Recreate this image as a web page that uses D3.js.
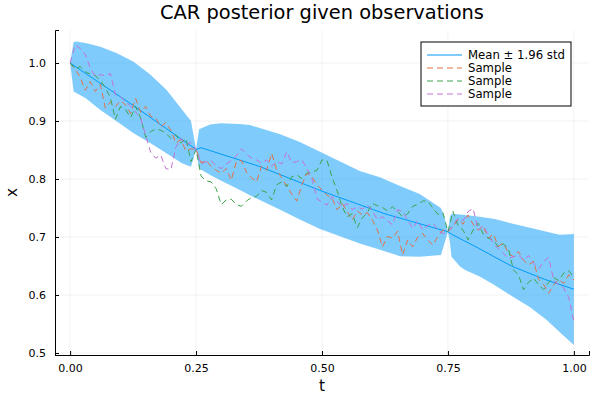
<!DOCTYPE html>
<html lang="en">
<head>
  <meta charset="UTF-8">
  <script src="https://cdn.jsdelivr.net/npm/d3@7"></script>
  <style>
    body { margin: 0; background: #fff; }
    text { font-family: "DejaVu Sans", sans-serif; fill: #000; }
  </style>
</head>
<body>
<div id="my_dataviz"></div>

<script>
// data
var tBand = [0, 0.007, 0.013, 0.026, 0.033, 0.06, 0.093, 0.126, 0.159, 0.192, 0.222, 0.24, 0.25,
  0.256, 0.278, 0.298, 0.337, 0.357, 0.417, 0.456, 0.496, 0.575, 0.615, 0.655, 0.694, 0.736, 0.742, 0.75,
  0.754, 0.757, 0.774, 0.784, 0.813, 0.843, 0.879, 0.913, 0.946, 0.972, 1.0];
var bandUpper = [1.0, 1.036, 1.037, 1.035, 1.034, 1.028, 1.017, 1.002, 0.980, 0.953, 0.920, 0.900, 0.851,
  0.886, 0.894, 0.896, 0.895, 0.893, 0.877, 0.864, 0.847, 0.814, 0.803, 0.788, 0.774, 0.750, 0.738, 0.709,
  0.735, 0.740, 0.739, 0.738, 0.735, 0.731, 0.723, 0.716, 0.709, 0.704, 0.705];
var bandLower = [1.0, 0.951, 0.948, 0.942, 0.938, 0.919, 0.899, 0.879, 0.862, 0.844, 0.827, 0.821, 0.851,
  0.818, 0.807, 0.798, 0.781, 0.772, 0.747, 0.730, 0.714, 0.689, 0.678, 0.667, 0.666, 0.669, 0.686, 0.709,
  0.690, 0.666, 0.649, 0.643, 0.632, 0.617, 0.597, 0.579, 0.557, 0.536, 0.514];

var tMean = [0, 0.125, 0.25, 0.26, 0.375, 0.5, 0.625, 0.75, 0.757, 0.81, 0.876, 0.942, 1.0];
var meanVals = [1.0, 0.927, 0.851, 0.854, 0.822, 0.779, 0.740, 0.709, 0.705, 0.681, 0.650, 0.627, 0.610];

var tSample = [0, 0.01, 0.02, 0.03, 0.04, 0.05, 0.06, 0.07, 0.08, 0.09, 0.1, 0.11, 0.12, 0.13, 0.14, 0.15,
  0.16, 0.17, 0.18, 0.19, 0.2, 0.21, 0.22, 0.23, 0.24, 0.25, 0.26, 0.27, 0.28, 0.29, 0.3, 0.31, 0.32, 0.33,
  0.34, 0.35, 0.36, 0.37, 0.38, 0.39, 0.4, 0.41, 0.42, 0.43, 0.44, 0.45, 0.46, 0.47, 0.48, 0.49, 0.5, 0.51,
  0.52, 0.53, 0.54, 0.55, 0.56, 0.57, 0.58, 0.59, 0.6, 0.61, 0.62, 0.63, 0.64, 0.65, 0.66, 0.67, 0.68, 0.69,
  0.7, 0.71, 0.72, 0.73, 0.74, 0.75, 0.76, 0.77, 0.78, 0.79, 0.8, 0.81, 0.82, 0.83, 0.84, 0.85, 0.86, 0.87,
  0.88, 0.89, 0.9, 0.91, 0.92, 0.93, 0.94, 0.95, 0.96, 0.97, 0.98, 0.99, 1.0];

var sampleOrange = [1.0, 0.99, 0.975, 0.953, 0.968, 0.951, 0.963, 0.922, 0.933, 0.925, 0.935, 0.928, 0.913,
  0.939, 0.915, 0.925, 0.908, 0.905, 0.89, 0.897, 0.884, 0.862, 0.868, 0.848, 0.852, 0.851,
  0.828, 0.832, 0.822, 0.815, 0.81, 0.818, 0.798, 0.83, 0.832, 0.812, 0.802, 0.795, 0.822, 0.815, 0.844,
  0.816, 0.802, 0.788, 0.774, 0.762, 0.79, 0.81, 0.804, 0.79, 0.781, 0.772, 0.767, 0.747, 0.758, 0.744,
  0.729, 0.745, 0.738, 0.742, 0.729, 0.712, 0.683, 0.701, 0.698, 0.71, 0.669, 0.695, 0.683, 0.7, 0.706,
  0.695, 0.686, 0.701, 0.712, 0.709,
  0.718, 0.73, 0.722, 0.738, 0.722, 0.712, 0.719, 0.698, 0.705, 0.684, 0.69, 0.672, 0.666, 0.675, 0.66,
  0.652, 0.658, 0.627, 0.618, 0.603, 0.618, 0.626, 0.62, 0.635, 0.626];
var sampleGreen = [1.0, 0.99, 0.994, 0.985, 0.981, 0.978, 0.97, 0.957, 0.94, 0.903, 0.925, 0.92, 0.906,
  0.925, 0.905, 0.872, 0.882, 0.886, 0.884, 0.879, 0.87, 0.876, 0.862, 0.87, 0.83, 0.851,
  0.805, 0.797, 0.795, 0.783, 0.756, 0.764, 0.765, 0.756, 0.753, 0.762, 0.768, 0.77, 0.78, 0.777, 0.764,
  0.79, 0.795, 0.787, 0.804, 0.807, 0.801, 0.81, 0.812, 0.815, 0.833, 0.832, 0.803, 0.78, 0.752, 0.735,
  0.74, 0.716, 0.733, 0.742, 0.758, 0.754, 0.751, 0.745, 0.752, 0.744, 0.735, 0.74, 0.753, 0.756, 0.762,
  0.762, 0.75, 0.739, 0.742, 0.709,
  0.744, 0.72, 0.712, 0.695, 0.712, 0.724, 0.705, 0.698, 0.695, 0.683, 0.688, 0.68, 0.643, 0.635, 0.609,
  0.622, 0.629, 0.618, 0.609, 0.622, 0.63, 0.625, 0.638, 0.642, 0.63];
var samplePurple = [1.0, 1.031, 1.025, 1.015, 0.991, 0.977, 0.98, 0.978, 0.982, 0.945, 0.942, 0.933, 0.926,
  0.915, 0.905, 0.875, 0.846, 0.836, 0.841, 0.818, 0.816, 0.855, 0.87, 0.859, 0.863, 0.851,
  0.826, 0.83, 0.832, 0.822, 0.818, 0.826, 0.832, 0.84, 0.852, 0.843, 0.836, 0.833, 0.827, 0.833, 0.822,
  0.83, 0.826, 0.847, 0.828, 0.83, 0.833, 0.818, 0.8, 0.766, 0.76, 0.755, 0.77, 0.762, 0.752, 0.758,
  0.747, 0.752, 0.748, 0.755, 0.745, 0.73, 0.735, 0.728, 0.721, 0.747, 0.744, 0.729, 0.715, 0.728, 0.712,
  0.72, 0.724, 0.712, 0.706, 0.709,
  0.72, 0.732, 0.728, 0.744, 0.749, 0.712, 0.72, 0.703, 0.69, 0.68, 0.672, 0.663, 0.666, 0.669, 0.66,
  0.668, 0.655, 0.645, 0.658, 0.665, 0.625, 0.618, 0.612, 0.595, 0.554];

var xTicks = [0, 0.25, 0.5, 0.75, 1.0];
var yTicks = [0.5, 0.6, 0.7, 0.8, 0.9, 1.0];
var legendLabels = ["Mean \u00b1 1.96 std", "Sample", "Sample", "Sample"];

// sizes
var W = 600, H = 400;
var plotLeft = 55, plotRight = 589, plotTop = 30, plotBottom = 355;
var blue = "#009af9";
var sampleColors = ["#e26f46", "#3da44d", "#c271d2"];

var svg = d3.select("#my_dataviz")
  .append("svg")
  .attr("width", W)
  .attr("height", H);

var x = d3.scaleLinear().domain([-0.03, 1.03]).range([plotLeft, plotRight]);
var y = d3.scaleLinear().domain([0.4966, 1.0569]).range([plotBottom, plotTop]);

// grid
svg.append("g").selectAll("line")
  .data(xTicks).enter().append("line")
  .attr("x1", function(d) { return x(d); })
  .attr("x2", function(d) { return x(d); })
  .attr("y1", plotTop).attr("y2", plotBottom)
  .attr("stroke", "#000").attr("stroke-opacity", 0.1).attr("stroke-width", 0.5);
svg.append("g").selectAll("line")
  .data(yTicks).enter().append("line")
  .attr("x1", plotLeft).attr("x2", plotRight)
  .attr("y1", function(d) { return y(d); })
  .attr("y2", function(d) { return y(d); })
  .attr("stroke", "#000").attr("stroke-opacity", 0.1).attr("stroke-width", 0.5);

// ribbon
var band = tBand.map(function(t, i) { return { t: t, lo: bandLower[i], hi: bandUpper[i] }; });
svg.append("path")
  .datum(band)
  .attr("fill", blue)
  .attr("fill-opacity", 0.5)
  .attr("d", d3.area()
    .x(function(d) { return x(d.t); })
    .y0(function(d) { return y(d.lo); })
    .y1(function(d) { return y(d.hi); }));

// mean line
var line = d3.line()
  .x(function(d) { return x(d[0]); })
  .y(function(d) { return y(d[1]); });
svg.append("path")
  .datum(tMean.map(function(t, i) { return [t, meanVals[i]]; }))
  .attr("fill", "none")
  .attr("stroke", blue)
  .attr("stroke-width", 1)
  .attr("d", line);

// samples
[sampleOrange, sampleGreen, samplePurple].forEach(function(s, k) {
  svg.append("path")
    .datum(tSample.map(function(t, i) { return [t, s[i]]; }))
    .attr("fill", "none")
    .attr("stroke", sampleColors[k])
    .attr("stroke-width", 1)
    .attr("stroke-dasharray", "6,4")
    .attr("d", line);
});

// axes
var xAxis = svg.append("g")
  .attr("transform", "translate(0," + plotBottom + ")")
  .call(d3.axisBottom(x).tickValues(xTicks).tickFormat(d3.format(".2f")).tickSize(-4).tickPadding(9));
var yAxis = svg.append("g")
  .attr("transform", "translate(" + plotLeft + ",0)")
  .call(d3.axisLeft(y).tickValues(yTicks).tickFormat(d3.format(".1f")).tickSize(-4).tickPadding(9));
[xAxis, yAxis].forEach(function(a) {
  a.select(".domain").attr("stroke", "#000").attr("stroke-width", 1);
  a.selectAll(".tick line").attr("stroke", "#000");
  a.selectAll(".tick text").style("font-size", "11px").attr("fill", "#000");
});

// title and labels
svg.append("text")
  .attr("x", (plotLeft + plotRight) / 2).attr("y", 19)
  .attr("text-anchor", "middle")
  .style("font-size", "19.4px")
  .text("CAR posterior given observations");
svg.append("text")
  .attr("x", (plotLeft + plotRight) / 2).attr("y", 391)
  .attr("text-anchor", "middle")
  .style("font-size", "15.3px")
  .text("t");
svg.append("text")
  .attr("transform", "translate(17," + ((plotTop + plotBottom) / 2) + ")rotate(-90)")
  .attr("text-anchor", "middle")
  .style("font-size", "15.3px")
  .text("x");

// legend
var lg = svg.append("g");
lg.append("rect")
  .attr("x", 421).attr("y", 42).attr("width", 150).attr("height", 64)
  .attr("fill", "#fff").attr("stroke", "#000").attr("stroke-width", 1);
var legendColors = [blue].concat(sampleColors);
legendLabels.forEach(function(lab, i) {
  var ly = 55 + i * 13;
  lg.append("line")
    .attr("x1", 427).attr("x2", 462).attr("y1", ly).attr("y2", ly)
    .attr("stroke", legendColors[i]).attr("stroke-width", 1)
    .attr("stroke-dasharray", i === 0 ? null : "6,4");
  lg.append("text")
    .attr("x", 468).attr("y", ly + 4)
    .style("font-size", "11.7px")
    .text(lab);
});
</script>
</body>
</html>
